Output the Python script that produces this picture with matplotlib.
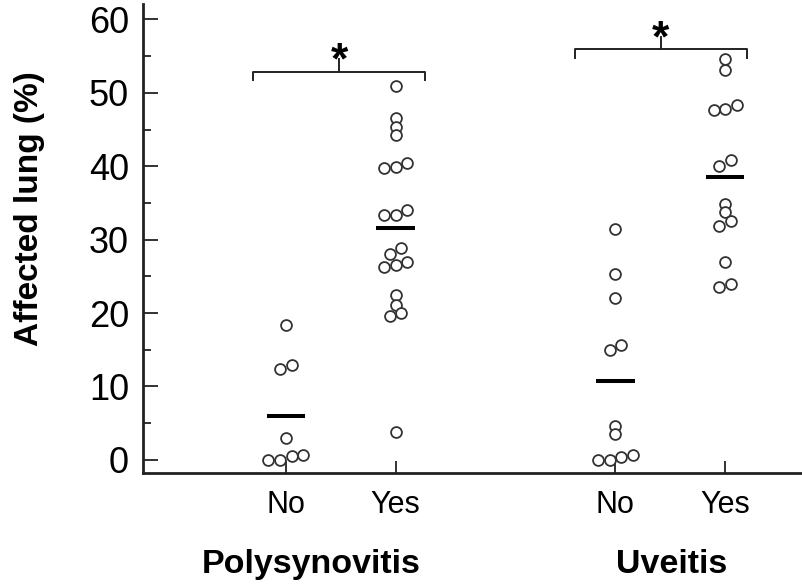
"""Affected lung (%) by polysynovitis and uveitis status: dot plot with group means."""

import matplotlib

matplotlib.use("Agg")
import matplotlib.pyplot as plt
import numpy as np
from matplotlib.ticker import MultipleLocator

# % affected lung per animal.
POLY_NO = [18.3, 12.4, 12.9, 3.0, 0.0, 0.0, 0.5, 0.7]
POLY_YES = [50.9, 46.5, 45.4, 44.3, 39.8, 39.9, 40.4, 33.4, 33.4, 34.1,
            28.1, 28.8, 26.2, 26.5, 27.0, 22.4, 21.1, 19.6, 20.0, 3.8]
UVEITIS_NO = [31.4, 25.3, 22.0, 14.9, 15.6, 4.6, 3.5, 0.0, 0.0, 0.4, 0.6]
UVEITIS_YES = [54.6, 53.1, 47.7, 47.8, 48.4, 40.0, 40.8, 34.8, 33.8,
               31.8, 32.5, 26.9, 23.6, 24.0]

TICK_LABELS = ["No", "Yes", "No", "Yes"]
GROUP_LABELS = ["Polysynovitis", "Uveitis"]
SIGNIF = ["*", "*"]

_POSITIONS = [1.3, 2.3, 4.3, 5.3]
_GROUP_X = [1.53, 4.81]
_BRACKETS = [((1.0, 2.57), 52.9), ((3.93, 5.50), 55.9)]
_DOT_STEP = 0.105
_FONT = ["Liberation Sans", "DejaVu Sans"]
_INK = "#222222"


def _row_offsets(values, gap=0.95):
    """Spread near-equal values sideways in rows, centred on the column."""
    vals = np.asarray(values, dtype=float)
    order = np.argsort(vals, kind="stable")
    offsets = np.zeros(len(vals))
    rows, current = [], [order[0]]
    for a, b in zip(order[:-1], order[1:]):
        if vals[b] - vals[a] < gap:
            current.append(b)
        else:
            rows.append(current)
            current = [b]
    rows.append(current)
    for row in rows:
        n = len(row)
        for k, idx in enumerate(row):
            offsets[idx] = k - (n - 1) / 2
    return offsets


def main():
    plt.rcParams["font.family"] = _FONT
    fig = plt.figure(figsize=(8.02, 5.86), dpi=100)
    ax = fig.add_axes([0.1783, 0.1928, 0.8217, 0.8004])

    series = [POLY_NO, POLY_YES, UVEITIS_NO, UVEITIS_YES]
    for pos, vals in zip(_POSITIONS, series):
        xs = pos + _row_offsets(vals) * _DOT_STEP
        ax.plot(xs, vals, "o", ms=7.8, mfc="white", mec="#333333", mew=1.3,
                ls="none", zorder=3)
        ax.hlines(np.mean(vals), pos - 0.175, pos + 0.175, color="black",
                  lw=2.9, zorder=4)

    for ((x0, x1), y), star in zip(_BRACKETS, SIGNIF):
        mid = (x0 + x1) / 2
        ax.plot([x0, x0, x1, x1], [y - 1.1, y, y, y - 1.1], color=_INK,
                lw=1.4, clip_on=False)
        ax.plot([mid, mid], [y, y + 1.7], color=_INK, lw=1.4, clip_on=False)
        ax.text(mid, y - 0.2, star, ha="center", va="baseline", fontsize=32,
                fontweight="bold", clip_on=False)

    ax.set_xlim(0, 6)
    ax.set_ylim(-1.8, 62.1)
    ax.set_xticks(_POSITIONS)
    ax.set_xticklabels(TICK_LABELS)
    ax.yaxis.set_major_locator(MultipleLocator(10))
    ax.yaxis.set_minor_locator(MultipleLocator(5))
    ax.set_yticks(range(0, 61, 10))

    for side in ("top", "right"):
        ax.spines[side].set_visible(False)
    for side in ("left", "bottom"):
        ax.spines[side].set_linewidth(2.0)
        ax.spines[side].set_color(_INK)

    ax.tick_params(axis="y", which="major", direction="in", length=11,
                   width=1.3, color=_INK, labelsize=26, pad=10)
    ax.tick_params(axis="y", which="minor", direction="in", length=6,
                   width=1.3, color=_INK)
    ax.tick_params(axis="x", which="major", direction="in", length=9,
                   width=1.3, color=_INK, labelsize=22, pad=12)

    fig.text(30 / 802, 1 - 209 / 586, "Affected lung (%)", rotation=90,
             ha="center", va="center", fontsize=24, fontweight="bold")
    for gx, label in zip(_GROUP_X, GROUP_LABELS):
        ax.text(gx, -0.194, label, transform=ax.get_xaxis_transform(),
                ha="center", va="center", fontsize=24.5, fontweight="bold")

    fig.savefig("out.png", dpi=100)
    plt.close(fig)


if __name__ == "__main__":
    main()
